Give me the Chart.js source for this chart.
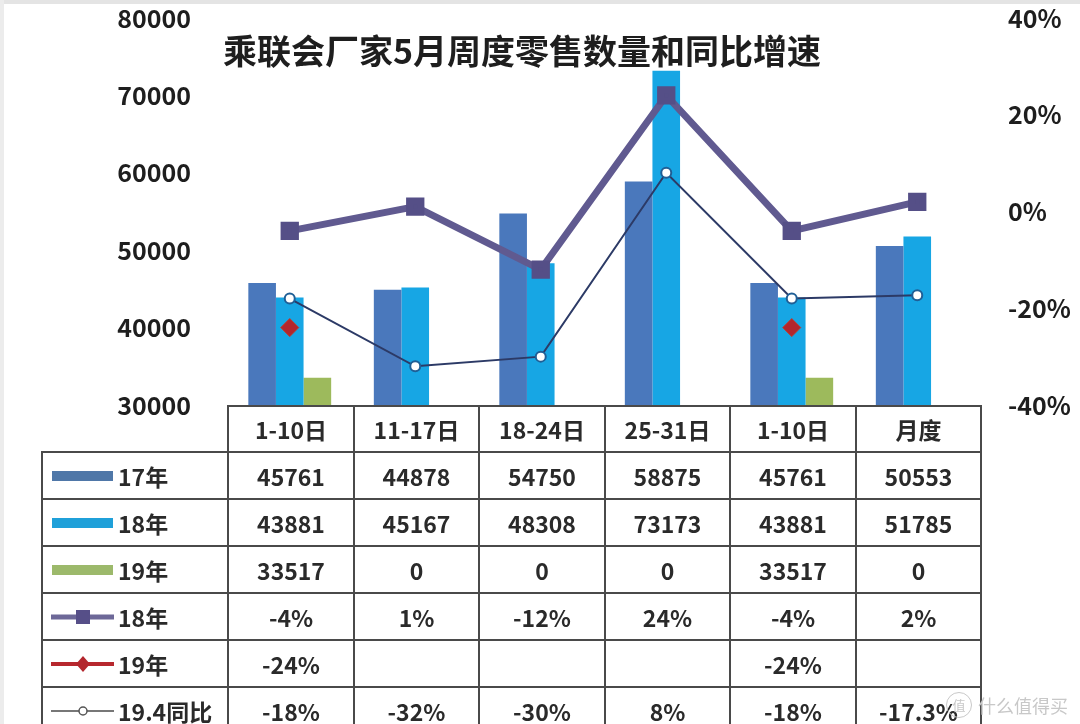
<!DOCTYPE html>
<html>
<head>
<meta charset="utf-8">
<script src="https://cdn.jsdelivr.net/npm/chart.js@4.4.0/dist/chart.umd.min.js"></script>
<style>
html, body { margin: 0; padding: 0; background: #fff; }
#wrap { position: relative; width: 1080px; height: 724px; overflow: hidden; background: #fff;
  font-family: "Noto Sans CJK SC", "Liberation Sans", sans-serif; color: #222; }
#myChart { position: absolute; left: 0; top: 0; }
#title { position: absolute; left: 0; width: 1044px; top: 28px; text-align: center;
  font-size: 34px; font-weight: bold; line-height: 44px; color: #1e1e1e; }
#tbl { position: absolute; left: 41px; top: 405px; border-collapse: collapse; table-layout: fixed; }
#tbl td { border: 2px solid #4a4a4a; text-align: center; font-size: 23px; font-weight: bold;
  color: #2a2a2a; padding: 0; white-space: nowrap; line-height: 26px; }
#tbl td.corner { border: none; }
#tbl td.leg { text-align: left; padding-left: 8px; }
#tbl td.leg div { display: flex; align-items: center; }
#tbl td.leg svg { margin-right: 3px; flex: none; }
.frameTop { position: absolute; left: 0; top: 0; width: 1080px; height: 4px; background: #e4e4e4; }
.frameLeft { position: absolute; left: 0; top: 0; width: 4px; height: 724px; background: #ececec; }
#wm { position: absolute; left: 946px; top: 690px; width: 134px; height: 30px; display: flex; align-items: center;
  font-size: 18px; color: #c8c8c8; white-space: nowrap; }
#wm b { flex: none; width: 24px; height: 24px; border: 1.5px solid #c8c8c8; border-radius: 50%;
  font-size: 13px; line-height: 24px; text-align: center; font-weight: normal; margin-right: 6px; }
</style>
</head>
<body>
<div id="wrap">
  <canvas id="myChart" width="1080" height="724"></canvas>
  <div id="title">乘联会厂家5月周度零售数量和同比增速</div>
  <table id="tbl"></table>
  <div class="frameTop"></div>
  <div class="frameLeft"></div>
  <div id="wm"><b>值</b><span>什么值得买</span></div>
</div>
<script>
// data
const categories = ['1-10日', '11-17日', '18-24日', '25-31日', '1-10日', '月度'];
const sales17 = [45761, 44878, 54750, 58875, 45761, 50553];
const sales18 = [43881, 45167, 48308, 73173, 43881, 51785];
const sales19 = [33517, 0, 0, 0, 33517, 0];
const growth18 = [-4, 1, -12, 24, -4, 2];
const growth19 = [-24, null, null, null, -24, null];
const growth194 = [-18, -32, -30, 8, -18, -17.3];
const leftTicks = [30000, 40000, 50000, 60000, 70000, 80000];
const rightTicks = [-40, -20, 0, 20, 40];

const tickFont = { family: '"Noto Sans CJK SC", "Liberation Sans", sans-serif', size: 25, weight: 'bold' };

const ctx = document.getElementById('myChart').getContext('2d');

const myChart = new Chart(ctx, {
    type: 'bar',
    data: {
        labels: categories,
        datasets: [
            {
                type: 'line', label: '19.4同比', data: growth194, yAxisID: 'y1', order: 0,
                borderColor: '#2c3a66', borderWidth: 2, tension: 0,
                pointRadius: 5, pointBackgroundColor: '#ffffff', pointBorderColor: '#1f5f96', pointBorderWidth: 2
            },
            {
                type: 'line', label: '19年', data: growth19, yAxisID: 'y1', order: 1,
                showLine: false, pointStyle: 'rectRot', pointRadius: 9,
                pointBackgroundColor: '#b3262d', pointBorderColor: '#c0392b', pointBorderWidth: 1
            },
            {
                type: 'line', label: '18年', data: growth18, yAxisID: 'y1', order: 2,
                borderColor: '#605a90', borderWidth: 7, tension: 0,
                pointStyle: 'rect', pointRadius: 8, pointBackgroundColor: '#554f87', pointBorderColor: '#554f87'
            },
            { label: '17年', data: sales17, yAxisID: 'y', backgroundColor: '#4a78bc', order: 3 },
            { label: '18年', data: sales18, yAxisID: 'y', backgroundColor: '#17a6e4', order: 3 },
            { label: '19年', data: sales19, yAxisID: 'y', backgroundColor: '#9dba5c', order: 3 }
        ]
    },
    options: {
        responsive: false,
        animation: false,
        layout: { padding: { top: 18, bottom: 319, left: 0, right: 0 } },
        datasets: { bar: { barPercentage: 1, categoryPercentage: 0.66 } },
        plugins: { legend: { display: false }, tooltip: { enabled: false } },
        scales: {
            x: { display: false, offset: true },
            y: {
                position: 'left', min: 30000, max: 80000,
                afterFit: function (s) { s.width = 227; s.paddingTop = 0; s.paddingBottom = 0; },
                afterBuildTicks: function (s) { s.ticks = leftTicks.map(v => ({ value: v })); },
                grid: { display: false, drawTicks: false },
                border: { display: false },
                ticks: { padding: 36, color: '#1e1e1e', font: tickFont, callback: v => String(v) }
            },
            y1: {
                position: 'right', min: -40, max: 40,
                afterFit: function (s) { s.width = 100; s.paddingTop = 0; s.paddingBottom = 0; },
                afterBuildTicks: function (s) { s.ticks = rightTicks.map(v => ({ value: v })); },
                grid: { display: false, drawTicks: false },
                border: { display: false },
                ticks: { padding: 28, color: '#1e1e1e', font: tickFont, callback: v => v + '%' }
            }
        }
    }
});

// data table under the plot, columns taken from the x scale
const xs = myChart.scales.x;
const legendLeft = 41;
const edges = [];
for (let i = 0; i <= categories.length; i++) {
    edges.push(Math.round(xs.left + (xs.right - xs.left) * i / categories.length));
}

function sym(kind, color) {
    let s = '<svg width="64" height="20" viewBox="0 0 64 20">';
    if (kind === 'bar') {
        s += '<rect x="1" y="5" width="61" height="10" fill="' + color + '"/>';
    } else if (kind === 'sq') {
        s += '<line x1="0" y1="10" x2="63" y2="10" stroke="' + color + '" stroke-width="5"/>';
        s += '<rect x="25" y="3" width="14" height="14" fill="#564f88"/>';
    } else if (kind === 'dia') {
        s += '<line x1="0" y1="10" x2="63" y2="10" stroke="' + color + '" stroke-width="4"/>';
        s += '<polygon points="32,2 39,10 32,18 25,10" fill="#b3262d"/>';
    } else {
        s += '<line x1="0" y1="10" x2="63" y2="10" stroke="' + color + '" stroke-width="2"/>';
        s += '<circle cx="32" cy="10" r="4" fill="#fff" stroke="#555" stroke-width="1.5"/>';
    }
    return s + '</svg>';
}

const pct = v => (v === null ? '' : v + '%');
const rows = [
    { name: '17年', kind: 'bar', color: '#4f77a8', vals: sales17.map(String) },
    { name: '18年', kind: 'bar', color: '#1fa0d9', vals: sales18.map(String) },
    { name: '19年', kind: 'bar', color: '#9cb96b', vals: sales19.map(String) },
    { name: '18年', kind: 'sq', color: '#6d6898', vals: growth18.map(pct) },
    { name: '19年', kind: 'dia', color: '#b7282e', vals: growth19.map(pct) },
    { name: '19.4同比', kind: 'circ', color: '#777', vals: growth194.map(pct) }
];

let html = '<colgroup><col style="width:' + (edges[0] - legendLeft) + 'px">';
for (let i = 0; i < categories.length; i++) html += '<col style="width:' + (edges[i + 1] - edges[i]) + 'px">';
html += '</colgroup>';
html += '<tr style="height:46px"><td class="corner"></td>';
categories.forEach(c => { html += '<td>' + c + '</td>'; });
html += '</tr>';
rows.forEach(r => {
    html += '<tr style="height:47px"><td class="leg"><div>' + sym(r.kind, r.color) + '<span>' + r.name + '</span></div></td>';
    r.vals.forEach(v => { html += '<td>' + v + '</td>'; });
    html += '</tr>';
});
const tbl = document.getElementById('tbl');
tbl.innerHTML = html;
tbl.style.width = (edges[edges.length - 1] - legendLeft) + 'px';
</script>
</body>
</html>
